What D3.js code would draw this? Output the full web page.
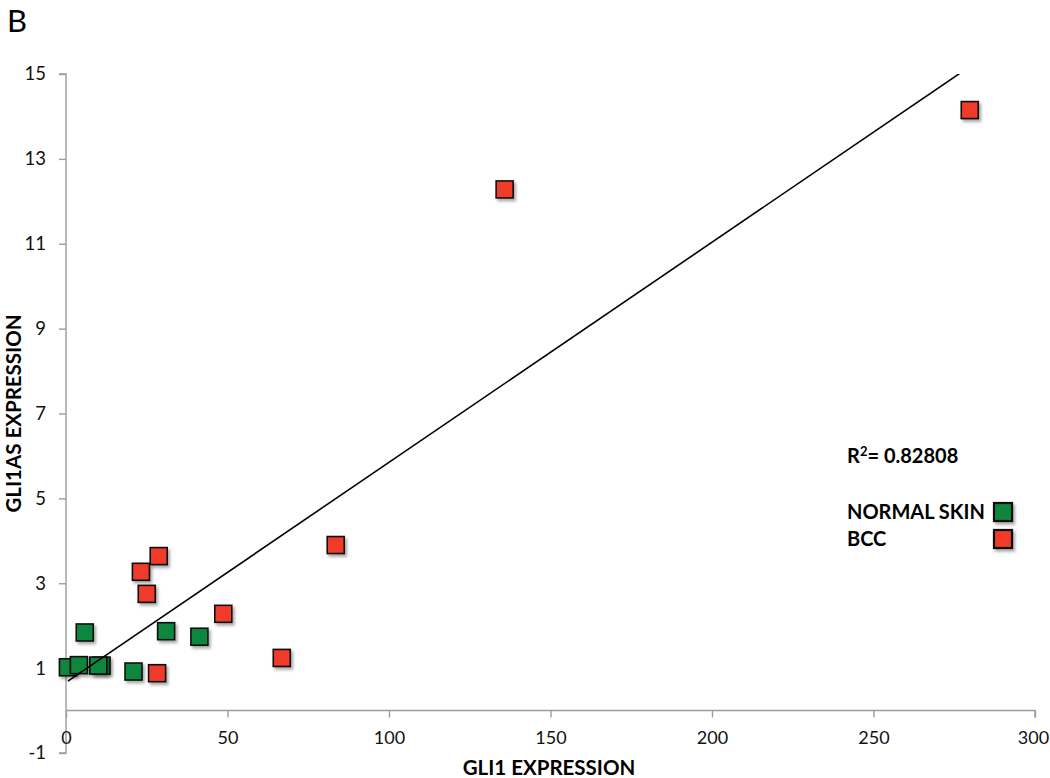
<!DOCTYPE html>
<html>
<head>
<meta charset="utf-8">
<script src="https://cdn.jsdelivr.net/npm/d3@7"></script>
<style>
  body { margin: 0; background: #fff; }
  svg { display: block; font-family: Lato, "Open Sans", sans-serif; }
</style>
</head>
<body>
<div id="chart"></div>
<script>
// values
const normalX = [0.6, 4.0, 11.0, 10.0, 5.8, 20.9, 31.0, 41.3];
const normalY = [1.02, 1.07, 1.06, 1.06, 1.84, 0.92, 1.87, 1.74];
const bccX = [28.2, 25.0, 23.2, 28.7, 48.7, 66.8, 83.5, 135.8, 279.8];
const bccY = [0.88, 2.75, 3.27, 3.64, 2.28, 1.24, 3.90, 12.28, 14.15];
const xTicks = [0, 50, 100, 150, 200, 250, 300];
const yTicks = [-1, 1, 3, 5, 7, 9, 11, 13, 15];
// trendline as shown in the picture
const trendSlope = 0.05186;
const trendIntercept = 0.664;
const rSquared = "0.82808";
const seriesNames = ["NORMAL SKIN", "BCC"];
const seriesColors = ["#0f873e", "#f03a2b"];

const width = 1050, height = 778;
const svg = d3.select("#chart").append("svg")
    .attr("width", width)
    .attr("height", height);

const defs = svg.append("defs");
const shadow = defs.append("filter").attr("id", "shadow")
    .attr("x", "-50%").attr("y", "-50%").attr("width", "200%").attr("height", "200%");
shadow.append("feDropShadow")
    .attr("dx", 2).attr("dy", 2.5).attr("stdDeviation", 1.6)
    .attr("flood-color", "#000").attr("flood-opacity", 0.35);

defs.append("clipPath").attr("id", "plotclip")
    .append("rect").attr("x", 66).attr("y", 74).attr("width", 970).attr("height", 680);

const x = d3.scaleLinear().domain([0, 300]).range([66, 1035]);
const y = d3.scaleLinear().domain([-1, 15]).range([753, 74]);

const fmt = d => String(d);   // plain hyphen for negatives, like the original

// panel letter
svg.append("text")
    .attr("x", 7).attr("y", 32)
    .attr("font-size", 31)
    .attr("fill", "#000")
    .text("B");

// y axis
const yAxis = svg.append("g")
    .attr("transform", `translate(${x(0)},0)`)
    .call(d3.axisLeft(y).tickValues(yTicks).tickSize(7).tickPadding(13).tickFormat(fmt));
yAxis.select(".domain").attr("stroke", "#9c9c9c").attr("stroke-width", 1.4)
    .attr("d", `M-7,${y(15)}H0V${y(-1)}H-7`);
yAxis.selectAll(".tick line").attr("stroke", "#9c9c9c").attr("stroke-width", 1.4);
yAxis.selectAll(".tick text").attr("font-size", 18.5).attr("fill", "#111")
    .attr("font-family", "Lato, 'Open Sans', sans-serif");

// x axis at y = 0
const xAxis = svg.append("g")
    .attr("transform", `translate(0,${y(0)})`)
    .call(d3.axisBottom(x).tickValues(xTicks).tickSize(7).tickPadding(14).tickFormat(fmt));
xAxis.select(".domain").attr("stroke", "#9c9c9c").attr("stroke-width", 1.4)
    .attr("d", `M${x(0)},0H${x(300)}V7`);
xAxis.selectAll(".tick line").attr("stroke", "#9c9c9c").attr("stroke-width", 1.4);
xAxis.selectAll(".tick text").attr("font-size", 18).attr("fill", "#111")
    .attr("font-family", "Lato, 'Open Sans', sans-serif");
// keep the last label inside the page edge
xAxis.selectAll(".tick text").filter(d => d === 300).attr("dx", -2);

// axis titles
svg.append("text")
    .attr("x", 549).attr("y", 775)
    .attr("text-anchor", "middle")
    .attr("font-size", 20.5).attr("font-weight", "bold")
    .text("GLI1 EXPRESSION");

svg.append("text")
    .attr("transform", `translate(21,${(y(15) + y(-1)) / 2}) rotate(-90)`)
    .attr("text-anchor", "middle")
    .attr("font-size", 20.5).attr("font-weight", "bold")
    .text("GLI1AS EXPRESSION");

// markers
const size = 17;
const series = [
    {xs: normalX, ys: normalY, color: seriesColors[0]},
    {xs: bccX, ys: bccY, color: seriesColors[1]}
];
series.forEach(s => {
    svg.append("g")
        .selectAll("rect")
        .data(s.xs.map((v, i) => [v, s.ys[i]]))
        .join("rect")
        .attr("x", d => x(d[0]) - size / 2)
        .attr("y", d => y(d[1]) - size / 2)
        .attr("width", size)
        .attr("height", size)
        .attr("fill", s.color)
        .attr("stroke", "#111")
        .attr("stroke-width", 1.6)
        .attr("filter", "url(#shadow)");
});

// trendline over the data range, clipped at the top
const allX = normalX.concat(bccX);
const xr = d3.extent(allX);
svg.append("line")
    .attr("clip-path", "url(#plotclip)")
    .attr("x1", x(xr[0])).attr("y1", y(trendIntercept + trendSlope * xr[0]))
    .attr("x2", x(xr[1])).attr("y2", y(trendIntercept + trendSlope * xr[1]))
    .attr("stroke", "#000")
    .attr("stroke-width", 1.6);

// legend
svg.append("text")
    .attr("x", 847).attr("y", 463)
    .attr("font-size", 20).attr("font-weight", "bold")
    .html(`R<tspan dy="-7" font-size="13">2</tspan><tspan dy="7">= ${rSquared}</tspan>`);

const legend = svg.append("g");
seriesNames.forEach((name, i) => {
    const ly = 512 + i * 27;
    legend.append("text")
        .attr("x", 847).attr("y", ly + 7)
        .attr("font-size", 20).attr("font-weight", "bold")
        .text(name);
    legend.append("rect")
        .attr("x", 994).attr("y", ly - 9)
        .attr("width", 18).attr("height", 18)
        .attr("fill", seriesColors[i])
        .attr("stroke", "#111")
        .attr("stroke-width", 2.2)
        .attr("filter", "url(#shadow)");
});
</script>
</body>
</html>
